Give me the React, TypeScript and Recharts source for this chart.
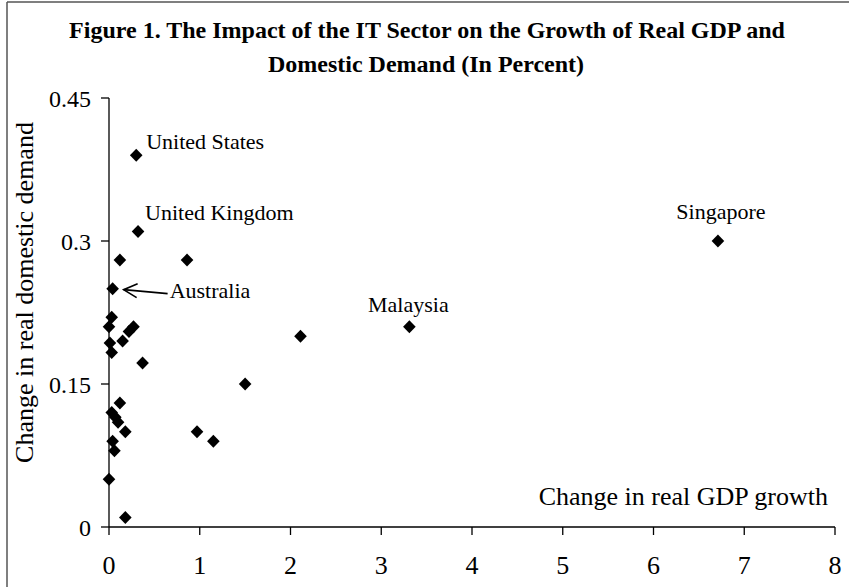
import { Label, Scatter, ScatterChart, XAxis, YAxis } from 'recharts';

// change in real GDP growth (x) and change in real domestic demand (y), per economy
const gdpGrowth = [
  0.3, 0.32, 0.12, 0.86, 0.04, 0.03, 0.0, 0.27, 0.22, 0.15, 0.01, 0.03, 0.37, 3.31,
  6.71, 2.11, 1.5, 0.97, 1.15, 0.12, 0.03, 0.07, 0.1, 0.18, 0.04, 0.06, 0.0, 0.18,
];
const demandGrowth = [
  0.39, 0.31, 0.28, 0.28, 0.25, 0.22, 0.21, 0.21, 0.205, 0.195, 0.193, 0.183, 0.172, 0.21,
  0.3, 0.2, 0.15, 0.1, 0.09, 0.13, 0.12, 0.115, 0.11, 0.1, 0.09, 0.08, 0.05, 0.01,
];
const economyNames = [
  'United States', 'United Kingdom', '', '', 'Australia', '', '', '', '', '', '', '', '', 'Malaysia',
  'Singapore', '', '', '', '', '', '', '', '', '', '', '', '', '',
];

const xTicks = [0, 1, 2, 3, 4, 5, 6, 7, 8];
const yTicks = [0, 0.15, 0.3, 0.45];

const points = gdpGrowth.map((x, i) => ({ x, y: demandGrowth[i], name: economyNames[i] }));

const FONT = '"Liberation Serif", "Times New Roman", serif';

// where each country label sits relative to its marker
const labelSpots: Record<string, { dx: number; dy: number; anchor: 'start' | 'middle' }> = {
  'United States': { dx: 10, dy: -6, anchor: 'start' },
  'United Kingdom': { dx: 7, dy: -11, anchor: 'start' },
  Australia: { dx: 57, dy: 9, anchor: 'start' },
  Malaysia: { dx: -1, dy: -15, anchor: 'middle' },
  Singapore: { dx: 3, dy: -22, anchor: 'middle' },
};

function Diamond(props: any) {
  const { cx, cy, payload } = props;
  const spot = payload && labelSpots[payload.name];
  return (
    <g>
      <polygon
        points={`${cx},${cy - 6.5} ${cx + 6.3},${cy} ${cx},${cy + 6.5} ${cx - 6.3},${cy}`}
        fill="#000"
      />
      {spot && (
        <text
          x={cx + spot.dx}
          y={cy + spot.dy}
          textAnchor={spot.anchor}
          fontFamily={FONT}
          fontSize={22}
          fill="#000"
        >
          {payload.name}
        </text>
      )}
      {payload && payload.name === 'Australia' && (
        <g stroke="#000" strokeWidth={1.6} fill="none">
          <line x1={cx + 11} y1={cy + 1} x2={cx + 55} y2={cy + 5} />
          <polyline points={`${cx + 25},${cy - 5} ${cx + 11},${cy + 1} ${cx + 24},${cy + 9}`} />
        </g>
      )}
    </g>
  );
}

const tickStyle = { fontFamily: FONT, fill: '#000' };

export default function App() {
  return (
    <div style={{ position: 'absolute', left: 0, top: 0, width: 849, height: 587, background: '#fff' }}>
      <ScatterChart width={849} height={587} margin={{ top: 98, right: 14, bottom: 0, left: 0 }}>
        <XAxis
          type="number"
          dataKey="x"
          domain={[0, 8]}
          ticks={xTicks}
          interval={0}
          height={60}
          tickSize={8}
          tickMargin={21}
          axisLine={{ stroke: '#000', strokeWidth: 1.3 }}
          tickLine={{ stroke: '#000', strokeWidth: 1.3 }}
          tick={{ ...tickStyle, fontSize: 26 }}
        >
          <Label
            content={({ viewBox }: any) => (
              <text
                x={viewBox.x + viewBox.width - 7}
                y={viewBox.y - 22}
                textAnchor="end"
                fontFamily={FONT}
                fontSize={26}
                fill="#000"
              >
                Change in real GDP growth
              </text>
            )}
          />
        </XAxis>
        <YAxis
          type="number"
          dataKey="y"
          domain={[0, 0.45]}
          ticks={yTicks}
          interval={0}
          width={109}
          tickSize={8}
          tickMargin={10}
          axisLine={{ stroke: '#000', strokeWidth: 1.3 }}
          tickLine={{ stroke: '#000', strokeWidth: 1.3 }}
          tick={{ ...tickStyle, fontSize: 24 }}
          tickFormatter={(v: number) => String(v)}
        >
          <Label
            content={({ viewBox }: any) => {
              const x = viewBox.x + 33;
              const y = viewBox.y + viewBox.height / 2 - 20;
              return (
                <text
                  x={x}
                  y={y}
                  transform={`rotate(-90 ${x} ${y})`}
                  textAnchor="middle"
                  fontFamily={FONT}
                  fontSize={26}
                  fill="#000"
                >
                  Change in real domestic demand
                </text>
              );
            }}
          />
        </YAxis>
        <Scatter data={points} shape={Diamond} isAnimationActive={false} />
      </ScatterChart>
      <svg
        width={849}
        height={587}
        style={{ position: 'absolute', left: 0, top: 0, pointerEvents: 'none' }}
      >
        {/* scanned frame: only the top and left edges show */}
        <line x1={7} y1={2} x2={849} y2={2} stroke="#555" strokeWidth={1.3} />
        <line x1={7} y1={2} x2={7} y2={587} stroke="#555" strokeWidth={1.5} />
        <text x={427} y={38} textAnchor="middle" fontFamily={FONT} fontWeight="bold" fontSize={24} fill="#000">
          Figure 1. The Impact of the IT Sector on the Growth of Real GDP and
        </text>
        <text x={426} y={72} textAnchor="middle" fontFamily={FONT} fontWeight="bold" fontSize={24} fill="#000">
          Domestic Demand (In Percent)
        </text>
      </svg>
    </div>
  );
}
